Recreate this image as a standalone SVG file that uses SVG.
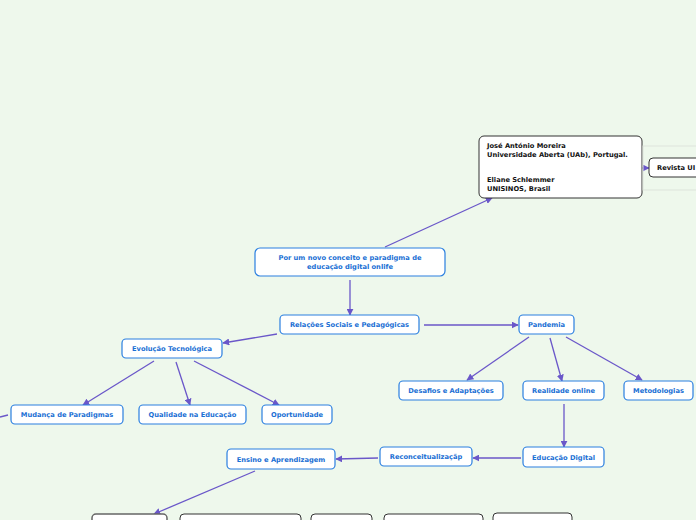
<svg xmlns="http://www.w3.org/2000/svg" width="696" height="520" viewBox="0 0 696 520">
<defs>
<style>
.bg{fill:#eef8ec}
.n{fill:#fff;stroke:#2a7fe0;stroke-width:1.2}
.d{fill:#fff;stroke:#333;stroke-width:1}
.t{font-family:"DejaVu Sans",Verdana,sans-serif;font-weight:bold;font-size:6.7px;fill:#1a6fd4;text-anchor:middle}
.k{font-family:"DejaVu Sans",Verdana,sans-serif;font-weight:bold;font-size:6.7px;fill:#111}
.c{stroke:#6a57c9;stroke-width:1.3;fill:none}
</style>
<marker id="a" viewBox="0 0 10 10" refX="9" refY="5" markerWidth="7" markerHeight="7" markerUnits="userSpaceOnUse" orient="auto">
<path d="M0,0 L10,5 L0,10 z" fill="#6a57c9"/>
</marker>
</defs>
<rect class="bg" width="696" height="520"/>
<g id="connectors">
<line class="c" x1="385" y1="247" x2="492" y2="198" marker-end="url(#a)"/>
<line class="c" x1="642" y1="168" x2="649" y2="168" marker-end="url(#a)"/>
<line class="c" x1="350" y1="280" x2="350" y2="315" marker-end="url(#a)"/>
<line class="c" x1="424" y1="325" x2="518" y2="325" marker-end="url(#a)"/>
<line class="c" x1="277" y1="334" x2="223" y2="343" marker-end="url(#a)"/>
<line class="c" x1="154" y1="361" x2="83" y2="405" marker-end="url(#a)"/>
<line class="c" x1="176" y1="362" x2="190" y2="405" marker-end="url(#a)"/>
<line class="c" x1="194" y1="361" x2="279" y2="405" marker-end="url(#a)"/>
<line class="c" x1="0" y1="417" x2="8" y2="415"/>
<line class="c" x1="529" y1="337" x2="467" y2="380" marker-end="url(#a)"/>
<line class="c" x1="550" y1="338" x2="562" y2="381" marker-end="url(#a)"/>
<line class="c" x1="566" y1="337" x2="642" y2="380" marker-end="url(#a)"/>
<line class="c" x1="564" y1="404" x2="564" y2="447" marker-end="url(#a)"/>
<line class="c" x1="521" y1="458" x2="473" y2="458" marker-end="url(#a)"/>
<line class="c" x1="378" y1="458" x2="336" y2="459" marker-end="url(#a)"/>
<line class="c" x1="255" y1="471" x2="154" y2="514" marker-end="url(#a)"/>
</g>
<g id="authors">
<rect class="d" x="479" y="136" width="163" height="62" rx="5"/>
<text class="k" x="487" y="148">José António Moreira</text>
<text class="k" x="487" y="157">Universidade Aberta (UAb), Portugal.</text>
<text class="k" x="487" y="182">Eliane Schlemmer</text>
<text class="k" x="487" y="191">UNISINOS, Brasil</text>
</g>
<g id="revista">
<rect x="643" y="146" width="60" height="44" fill="none" stroke="#dde4db" stroke-width="1"/>
<rect class="d" x="649" y="158" width="55" height="19" rx="4"/>
<text class="k" x="657" y="170">Revista UI</text>
</g>
<g id="root">
<rect class="n" x="255" y="248" width="190" height="28" rx="5"/>
<text class="t" x="350" y="260">Por um novo conceito e paradigma de</text>
<text class="t" x="350" y="269">educação digital onlife</text>
</g>
<g id="relacoes">
<rect class="n" x="280" y="315" width="139" height="19" rx="4"/>
<text class="t" x="349.5" y="327">Relações Sociais e Pedagógicas</text>
</g>
<g id="pandemia">
<rect class="n" x="519" y="315" width="55" height="19" rx="4"/>
<text class="t" x="546.5" y="327">Pandemia</text>
</g>
<g id="evolucao">
<rect class="n" x="122" y="339" width="100" height="19" rx="4"/>
<text class="t" x="172" y="351">Evolução Tecnológica</text>
</g>
<g id="mudanca">
<rect class="n" x="11" y="405" width="112" height="19" rx="4"/>
<text class="t" x="67" y="417">Mudança de Paradigmas</text>
</g>
<g id="qualidade">
<rect class="n" x="139" y="405" width="107" height="19" rx="4"/>
<text class="t" x="192.5" y="417">Qualidade na Educação</text>
</g>
<g id="oportunidade">
<rect class="n" x="262" y="405" width="70" height="19" rx="4"/>
<text class="t" x="297" y="417">Oportunidade</text>
</g>
<g id="desafios">
<rect class="n" x="399" y="381" width="104" height="19" rx="4"/>
<text class="t" x="451" y="393">Desafios e Adaptações</text>
</g>
<g id="realidade">
<rect class="n" x="523" y="381" width="81" height="19" rx="4"/>
<text class="t" x="563.5" y="393">Realidade online</text>
</g>
<g id="metodologias">
<rect class="n" x="624" y="381" width="69" height="19" rx="4"/>
<text class="t" x="658.5" y="393">Metodologias</text>
</g>
<g id="educacao">
<rect class="n" x="523" y="447" width="81" height="20" rx="4"/>
<text class="t" x="563.5" y="460">Educação Digital</text>
</g>
<g id="reconceitualizacao">
<rect class="n" x="380" y="447" width="92" height="19" rx="4"/>
<text class="t" x="426" y="459">Reconceitualizaçãp</text>
</g>
<g id="ensino">
<rect class="n" x="227" y="449" width="108" height="20" rx="4"/>
<text class="t" x="281" y="462">Ensino e Aprendizagem</text>
</g>
<g id="bottom1"><rect x="92" y="514" width="75" height="20" rx="4" fill="#fff" stroke="#666" stroke-width="1.5"/></g>
<g id="bottom2"><rect class="d" x="180" y="514" width="121" height="20" rx="4"/></g>
<g id="bottom3"><rect class="d" x="311" y="514" width="61" height="20" rx="4"/></g>
<g id="bottom4"><rect class="d" x="384" y="514" width="99" height="20" rx="4"/></g>
<g id="bottom5"><rect class="d" x="493" y="513" width="79" height="20" rx="4"/></g>
</svg>
